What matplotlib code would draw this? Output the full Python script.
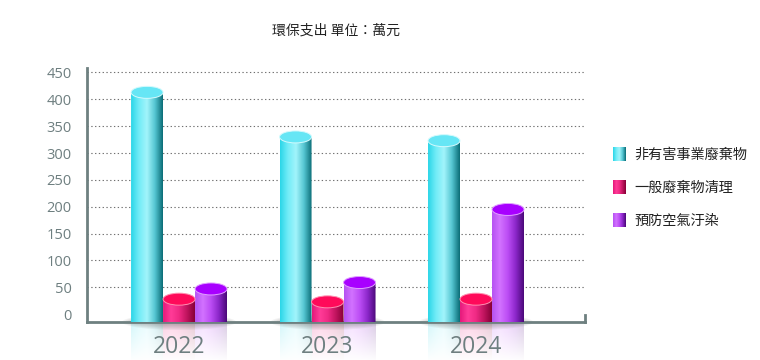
import numpy as np
import matplotlib
matplotlib.use('Agg')
import matplotlib.pyplot as plt
from matplotlib.colors import LinearSegmentedColormap
from matplotlib.patches import Ellipse, PathPatch
from matplotlib.path import Path

plt.rcParams['font.family'] = ['Noto Sans CJK TC', 'DejaVu Sans']

years = ['2022', '2023', '2024']
series = ['非有害事業廢棄物', '一般廢棄物清理', '預防空氣汙染']
waste_nonhaz = [413, 330, 323]
waste_general = [28, 23, 28]
air_prevent = [47, 59, 195]
yticks = [0, 50, 100, 150, 200, 250, 300, 350, 400, 450]

values = [waste_nonhaz, waste_general, air_prevent]
grad_stops = [
    ['#2ad6e8', '#72ecf7', '#a2f4fb', '#55c6d2', '#0a6c76'],
    ['#e4187a', '#ff3c98', '#f02a84', '#c0145e', '#860036'],
    ['#b552f2', '#d272ff', '#bb4cf4', '#8a26c8', '#4a0878'],
]
top_colors = ['#66e6f5', '#ff0a5a', '#a800ff']
edge_colors = ['#d4fafd', '#ff8fb0', '#e0a0ff']
cmaps = [LinearSegmentedColormap.from_list('c%d' % i, s) for i, s in enumerate(grad_stops)]

axis_col = '#6e8080'
ybase = -14.5
ymax = 458.3
px = 254 / (ymax - ybase)  # pixels per unit
ry = 6 / px
bar_w = 0.2155

fig = plt.figure(figsize=(7.6, 3.6), dpi=100)
ax = fig.add_axes([87 / 760, 38 / 360, 498 / 760, 254 / 360])


def draw_cyl(xc, val, cmap, topc, edgec):
    a = bar_w / 2
    t = np.linspace(np.pi, 2 * np.pi, 60)
    verts = [(xc - a, val)] + list(zip(xc + a * np.cos(t), ybase + ry * np.sin(t))) + [(xc + a, val), (xc - a, val)]
    patch = PathPatch(Path(verts, closed=True), fc='none', ec='none', transform=ax.transData)
    ax.add_patch(patch)
    grad = np.linspace(0, 1, 256).reshape(1, -1)
    im = ax.imshow(grad, cmap=cmap, extent=[xc - a, xc + a, ybase - ry, val],
                   aspect='auto', origin='lower', zorder=4)
    im.set_clip_path(patch)
    ax.add_patch(Ellipse((xc, val), bar_w, 2 * ry, fc=topc, ec=edgec, lw=0.7, zorder=5))

    # faint reflection under the axis
    h = 40 / px
    cols = cmap(np.linspace(0, 1, 128))
    alpha = np.linspace(0.35, 0.0, 64)
    rgba = np.zeros((64, 128, 4))
    rgba[:, :, :3] = cols[None, :, :3] * 0.6 + 0.4
    rgba[:, :, 3] = alpha[:, None]
    ax.imshow(rgba, extent=[xc - a, xc + a, ybase - h, ybase], aspect='auto',
              origin='upper', zorder=1, clip_on=False)


for g in range(len(years)):
    # soft shadow at the base of each group
    for k in range(6):
        ax.add_patch(Ellipse((g, ybase), 3 * bar_w + 0.12 - k * 0.03, (16 - k * 2.2) / px,
                             fc='#404040', ec='none', alpha=0.06, zorder=2, clip_on=False))
    for s in range(len(series)):
        xc = g + (s - 1) * bar_w
        draw_cyl(xc, values[s][g], cmaps[s], top_colors[s], edge_colors[s])
    ax.text(g, ybase - 31.3 / px, years[g], ha='center', va='baseline',
            fontsize=16.5, color='#6e7f80', family='Open Sans', clip_on=False, zorder=6)

ax.hlines(yticks[1:], -0.62, 2.734, colors='#707070', linestyles=(0, (1.2, 2.2)), lw=0.8, zorder=0)

ax.set_xlim(-0.62, 2.734)
ax.set_ylim(ybase, ymax)
ax.set_xticks([])
ax.set_yticks(yticks)
ax.set_yticklabels([str(v) for v in yticks], family='Open Sans', fontsize=10.5, color='#6e7f80')
ax.tick_params(axis='y', length=0, pad=11)
for sp in ['top', 'right']:
    ax.spines[sp].set_visible(False)
for sp in ['left', 'bottom']:
    ax.spines[sp].set_color(axis_col)
    ax.spines[sp].set_linewidth(2)
    ax.spines[sp].set_zorder(3)
ax.plot([1, 1], [0, 7 / 254], transform=ax.transAxes, color=axis_col, lw=2, clip_on=False, zorder=3)

fig.text(336 / 760, 1 - 34.5 / 360, '環保支出 單位：萬元', ha='center', va='baseline',
         fontsize=10, fontweight='medium', color='#222222')

# legend with gradient swatches
for s in range(len(series)):
    top_px = 147.3 + s * 33
    lax = fig.add_axes([613 / 760, 1 - (top_px + 13.5) / 360, 13 / 760, 13.5 / 360])
    lax.imshow(np.linspace(0, 1, 64).reshape(1, -1), cmap=cmaps[s], aspect='auto')
    lax.axis('off')
    fig.text(634 / 760, 1 - (158.5 + s * 33) / 360, series[s], ha='left', va='baseline',
             fontsize=10.2, fontweight='medium', color='#222222')

fig.savefig('out.png', dpi=100)
